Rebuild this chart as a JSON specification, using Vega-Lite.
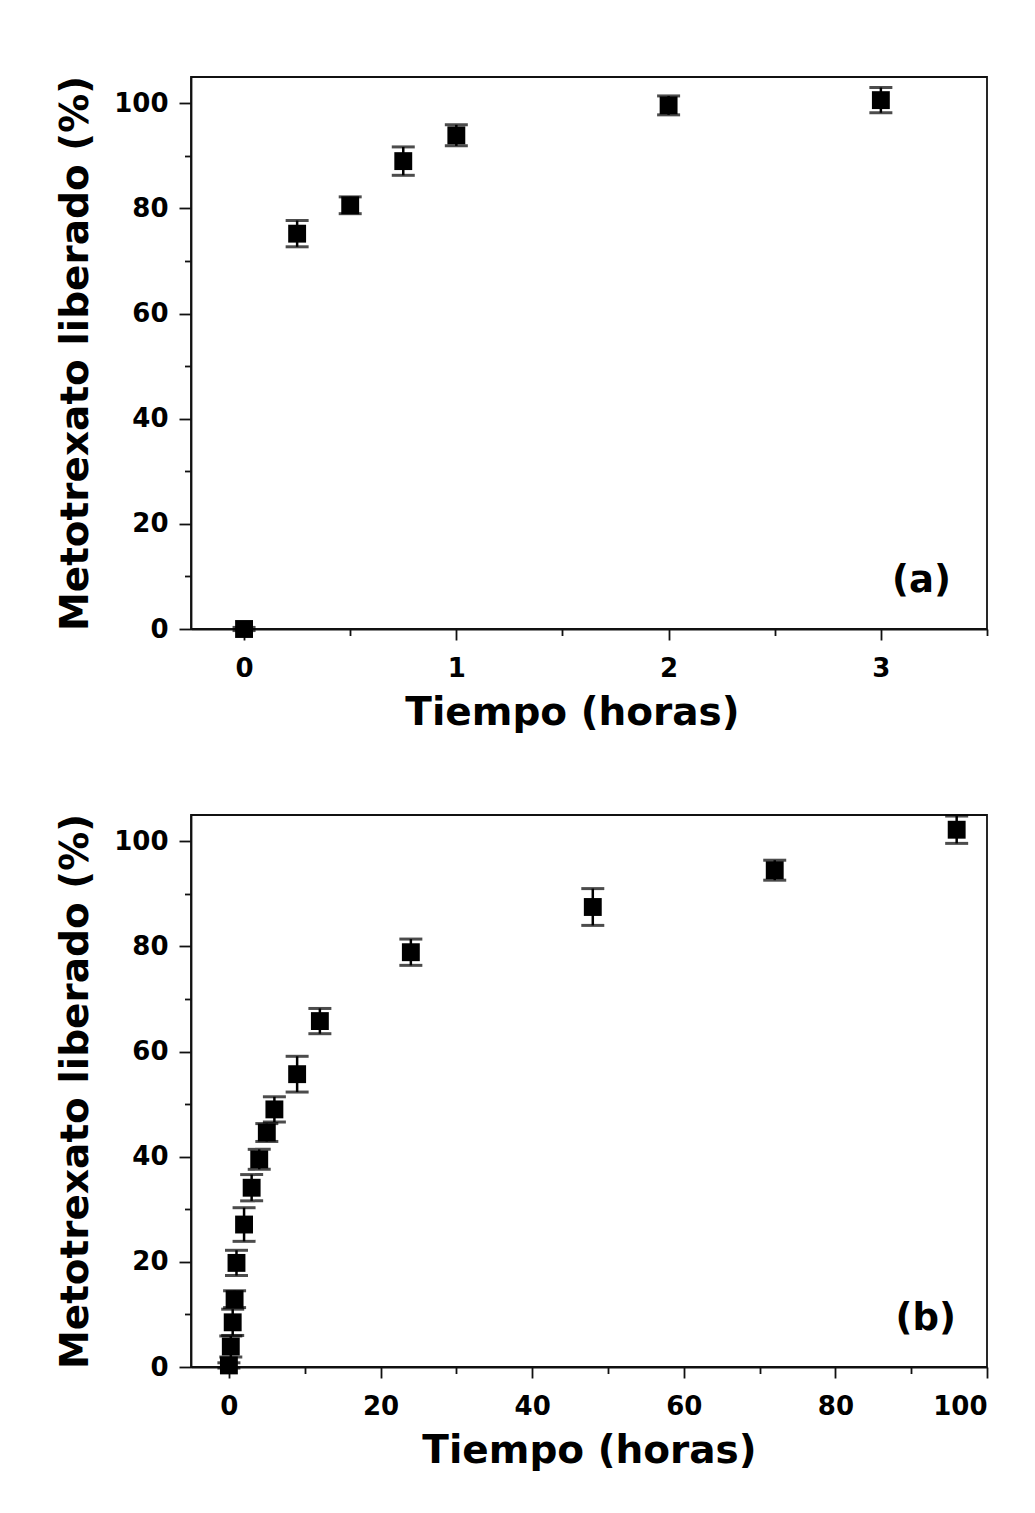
{
  "$schema": "https://vega.github.io/schema/vega-lite/v6.json",
  "padding": {"top": 74, "left": 55, "right": 10, "bottom": 10},
  "background": "white",
  "config": {
    "font": "DejaVu Sans",
    "view": {"stroke": "#111", "strokeWidth": 1.8},
    "axis": {
      "labelFont": "DejaVu Sans", "labelFontWeight": "bold", "labelFontSize": 26, "labelColor": "black",
      "titleFont": "DejaVu Sans", "titleFontWeight": "bold", "titleFontSize": 39, "titleColor": "black",
      "domainColor": "#111", "domainWidth": 1.8, "tickColor": "#111", "tickWidth": 1.8, "grid": false
    },
    "concat": {"spacing": 79}
  },
  "datasets": {
    "a": [
      {"t": 0, "y": 0, "err": 0.3},
      {"t": 0.25, "y": 75.2, "err": 2.5},
      {"t": 0.5, "y": 80.6, "err": 1.6},
      {"t": 0.75, "y": 89.0, "err": 2.7},
      {"t": 1, "y": 93.9, "err": 2.0},
      {"t": 2, "y": 99.6, "err": 1.8},
      {"t": 3, "y": 100.6, "err": 2.4}
    ],
    "b": [
      {"t": 0, "y": 0.3, "err": 0.5},
      {"t": 0.25, "y": 3.9, "err": 2.0},
      {"t": 0.5, "y": 8.5, "err": 2.5},
      {"t": 0.75, "y": 12.9, "err": 1.6},
      {"t": 1, "y": 19.8, "err": 2.4},
      {"t": 2, "y": 27.1, "err": 3.2},
      {"t": 3, "y": 34.1, "err": 2.5},
      {"t": 4, "y": 39.5, "err": 1.9},
      {"t": 5, "y": 44.6, "err": 1.7},
      {"t": 6, "y": 49.0, "err": 2.4},
      {"t": 9, "y": 55.7, "err": 3.4},
      {"t": 12, "y": 65.8, "err": 2.4},
      {"t": 24, "y": 78.9, "err": 2.5},
      {"t": 48, "y": 87.5, "err": 3.5},
      {"t": 72, "y": 94.5, "err": 1.9},
      {"t": 96, "y": 102.2, "err": 2.6}
    ],
    "la": [{"label": "(a)", "t": 3.33, "y": 7}],
    "lb": [{"label": "(b)", "t": 95.9, "y": 7}]
  },
  "vconcat": [
    {
      "width": 796, "height": 552,
      "layer": [
        {
          "data": {"name": "a"},
          "mark": {"type": "errorbar", "color": "black", "ticks": {"size": 23, "thickness": 3, "color": "black"}, "rule": {"strokeWidth": 2.5, "color": "black"}},
          "encoding": {
            "x": {"field": "t", "type": "quantitative", "scale": {"domain": [-0.25, 3.5], "nice": false, "zero": false},
                  "axis": {"title": "Tiempo (horas)", "values": [0, 1, 2, 3], "format": "d", "tickSize": 11, "labelPadding": 15, "titlePadding": 12, "titleX": 381}},
            "y": {"field": "y", "type": "quantitative", "scale": {"domain": [0, 105], "nice": false},
                  "axis": {"title": "Metotrexato liberado (%)", "values": [0, 20, 40, 60, 80, 100], "tickSize": 12, "labelPadding": 11, "titlePadding": 18}},
            "yError": {"field": "err"}
          }
        },
        {
          "data": {"name": "a"},
          "mark": {"type": "point", "shape": "square", "filled": true, "size": 320, "color": "black", "opacity": 1},
          "encoding": {
            "x": {"field": "t", "type": "quantitative", "axis": {"orient": "bottom", "values": [0.5, 1.5, 2.5, 3.5], "labels": false, "domain": false, "title": null, "tickSize": 6.5}},
            "y": {"field": "y", "type": "quantitative", "axis": {"orient": "left", "values": [10, 30, 50, 70, 90], "labels": false, "domain": false, "title": null, "tickSize": 6.5}}
          }
        },
        {
          "data": {"name": "la"},
          "mark": {"type": "text", "align": "right", "baseline": "alphabetic", "fontSize": 37, "fontWeight": "bold", "font": "DejaVu Sans", "color": "black"},
          "encoding": {
            "x": {"field": "t", "type": "quantitative", "axis": null},
            "y": {"field": "y", "type": "quantitative", "axis": null},
            "text": {"field": "label"}
          }
        }
      ],
      "resolve": {"axis": {"x": "independent", "y": "independent"}}
    },
    {
      "width": 796, "height": 552,
      "layer": [
        {
          "data": {"name": "b"},
          "mark": {"type": "errorbar", "color": "black", "ticks": {"size": 23, "thickness": 3, "color": "black"}, "rule": {"strokeWidth": 2.5, "color": "black"}},
          "encoding": {
            "x": {"field": "t", "type": "quantitative", "scale": {"domain": [-5, 100], "nice": false, "zero": false},
                  "axis": {"title": "Tiempo (horas)", "values": [0, 20, 40, 60, 80, 100], "format": "d", "tickSize": 11, "labelPadding": 15, "titlePadding": 12}},
            "y": {"field": "y", "type": "quantitative", "scale": {"domain": [0, 105], "nice": false},
                  "axis": {"title": "Metotrexato liberado (%)", "values": [0, 20, 40, 60, 80, 100], "tickSize": 12, "labelPadding": 11, "titlePadding": 18}},
            "yError": {"field": "err"}
          }
        },
        {
          "data": {"name": "b"},
          "mark": {"type": "point", "shape": "square", "filled": true, "size": 320, "color": "black", "opacity": 1},
          "encoding": {
            "x": {"field": "t", "type": "quantitative", "axis": {"orient": "bottom", "values": [10, 30, 50, 70, 90], "labels": false, "domain": false, "title": null, "tickSize": 6.5}},
            "y": {"field": "y", "type": "quantitative", "axis": {"orient": "left", "values": [10, 30, 50, 70, 90], "labels": false, "domain": false, "title": null, "tickSize": 6.5}}
          }
        },
        {
          "data": {"name": "lb"},
          "mark": {"type": "text", "align": "right", "baseline": "alphabetic", "fontSize": 37, "fontWeight": "bold", "font": "DejaVu Sans", "color": "black"},
          "encoding": {
            "x": {"field": "t", "type": "quantitative", "axis": null},
            "y": {"field": "y", "type": "quantitative", "axis": null},
            "text": {"field": "label"}
          }
        }
      ],
      "resolve": {"axis": {"x": "independent", "y": "independent"}}
    }
  ]
}
